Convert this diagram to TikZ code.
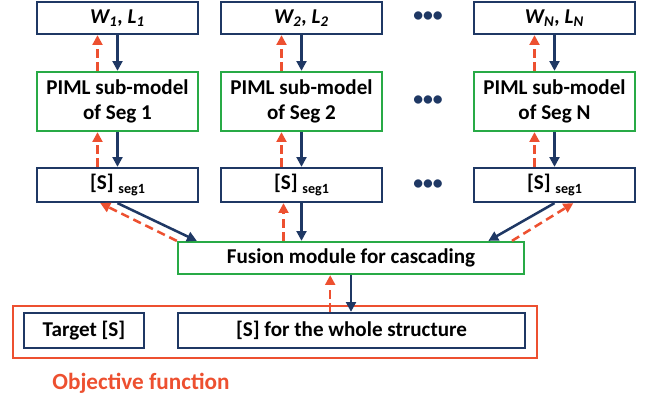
\documentclass[tikz,border=0pt]{standalone}
\usepackage{fontspec}
\setmainfont{Carlito}
\usetikzlibrary{arrows.meta, positioning, calc}
\definecolor{segblue}{RGB}{31, 56, 100}
\definecolor{segred}{RGB}{237, 80, 48}
\definecolor{seggreen}{RGB}{40, 170, 70}

\begin{document}
\begin{tikzpicture}[x=0.025cm, y=-0.025cm,
        font=\fontsize{15}{18}\selectfont\bfseries,
        inbox/.style={draw=segblue, line width=1.6pt, fill=white, inner sep=0pt,
                      minimum width=4.025cm, minimum height=0.8cm},
        modbox/.style={draw=seggreen, line width=1.6pt, fill=white, inner sep=0pt,
                       minimum width=4.025cm, minimum height=1.475cm, align=center},
        fwd/.style={draw=segblue, line width=1.8pt, -{Triangle[length=7pt, width=7pt]}},
        bwd/.style={draw=segred, line width=1.8pt, dash pattern=on 6pt off 3.5pt,
                    -{Triangle[length=7pt, width=7pt]}}]
    \useasboundingbox (0,0) rectangle (650,400);

    % objective frame goes first so the arrows sit on top of it
    \node[draw=segred, line width=1.6pt, minimum width=13.1cm, minimum height=1.3cm]
        (objbox) at (275,332) {};
    \node[text=segred, font=\fontsize{16.5}{20}\selectfont\bfseries]
        (objlabel) at (141,383) {Objective function};

    % one column per segment
    \foreach \n/\x in {1/117.5, 2/301.5, N/554.5} {
        \node[inbox] (w\n) at (\x,18) {\textit{W\textsubscript{\n}, L\textsubscript{\n}}};
        \node[modbox] (piml\n) at (\x,101.5) {PIML sub-model\\of Seg \n};
        \node[inbox, minimum height=0.85cm] (s\n) at (\x,185)
            {[S] \raisebox{-0.45ex}{\fontsize{10}{12}\selectfont seg1}};
        \draw[fwd] (w\n) -- (piml\n);
        \draw[fwd] (piml\n) -- (s\n);
        \draw[bwd] ([xshift=-0.5cm]piml\n.north) -- ([xshift=-0.5cm]w\n.south);
        \draw[bwd] ([xshift=-0.5cm]s\n.north) -- ([xshift=-0.5cm]piml\n.south);
    }

    % dots between column 2 and column N
    \node[font=\fontsize{14}{16}\selectfont\bfseries, text=segblue] (dotsw) at (428,17) {•••};
    \node[font=\fontsize{14}{16}\selectfont\bfseries, text=segblue] (dotsp) at (428,101) {•••};
    \node[font=\fontsize{14}{16}\selectfont\bfseries, text=segblue] (dotss) at (428,185) {•••};

    \node[modbox, minimum width=8.65cm, minimum height=0.8cm] (fusion) at (351,258)
        {Fusion module for cascading};
    \node[inbox, minimum width=8.675cm, minimum height=0.875cm] (whole) at (351.5,330.5)
        {[S] for the whole structure};
    \node[inbox, minimum width=3cm, minimum height=0.875cm] (target) at (84,330.5)
        {Target [S]};

    % segments into the fusion module
    \draw[fwd] (s1.south) -- ([xshift=0.5cm]fusion.north west);
    \draw[bwd] (fusion.north west) -- ([xshift=-0.43cm]s1.south);
    \draw[fwd] (s2.south) -- (s2.south |- fusion.north);
    \draw[bwd] ([xshift=-0.45cm]s2.south |- fusion.north) -- ([xshift=-0.45cm]s2.south);
    \draw[fwd] (sN.south) -- ([xshift=-0.92cm]fusion.north east);
    \draw[bwd] ([xshift=-0.33cm]fusion.north east) -- ([xshift=0.47cm]sN.south);

    % fusion module down to the full-structure response
    \draw[fwd] (fusion.south) -- (fusion.south |- whole.north);
    \draw[bwd] ([xshift=-0.52cm]fusion.south |- whole.north) -- ([xshift=-0.52cm]fusion.south);
\end{tikzpicture}
\end{document}
